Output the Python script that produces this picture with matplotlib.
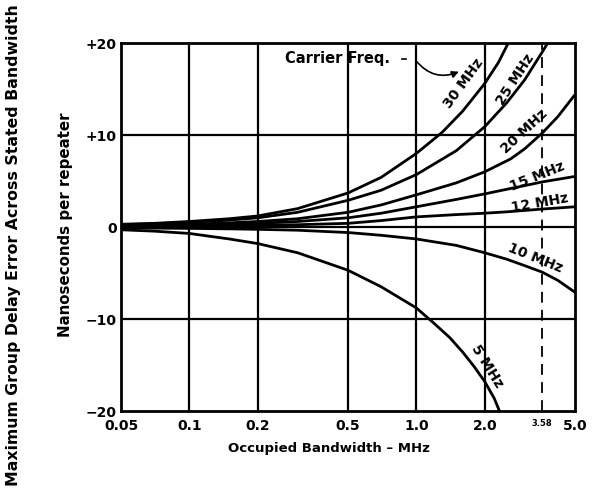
# Group delay error vs occupied bandwidth, one curve per carrier frequency.

import matplotlib
matplotlib.use("Agg")
import matplotlib.pyplot as plt

plt.rcParams["font.family"] = ["DejaVu Sans"]
plt.rcParams["font.weight"] = "bold"

# values (MHz, ns per repeater)
bw_30 = [0.05, 0.07, 0.1, 0.15, 0.2, 0.3, 0.5, 0.7, 1.0, 1.3, 1.6, 2.0, 2.3, 2.6]
gd_30 = [0.3, 0.4, 0.6, 0.9, 1.2, 2.0, 3.7, 5.4, 8.0, 10.3, 12.6, 15.6, 17.9, 20.5]

bw_25 = [0.05, 0.07, 0.1, 0.15, 0.2, 0.3, 0.5, 0.7, 1.0, 1.5, 2.0, 2.5, 3.0, 3.58, 3.9]
gd_25 = [0.25, 0.35, 0.5, 0.75, 1.0, 1.6, 2.9, 4.0, 5.7, 8.3, 10.9, 13.5, 16.0, 19.0, 20.5]

bw_20 = [0.05, 0.07, 0.1, 0.15, 0.2, 0.3, 0.5, 0.7, 1.0, 1.5, 2.0, 2.6, 3.0, 3.58, 4.2, 5.0]
gd_20 = [0.15, 0.2, 0.3, 0.45, 0.6, 0.9, 1.6, 2.4, 3.5, 4.8, 6.0, 7.4, 8.5, 10.2, 12.0, 14.4]

bw_15 = [0.05, 0.07, 0.1, 0.15, 0.2, 0.3, 0.5, 0.7, 1.0, 1.5, 2.0, 2.5, 3.0, 3.58, 5.0]
gd_15 = [0.1, 0.13, 0.2, 0.3, 0.4, 0.6, 1.0, 1.5, 2.2, 3.0, 3.6, 4.1, 4.5, 4.9, 5.5]

bw_12 = [0.05, 0.07, 0.1, 0.15, 0.2, 0.3, 0.5, 0.7, 1.0, 1.5, 2.0, 2.5, 3.0, 3.58, 5.0]
gd_12 = [0.05, 0.07, 0.1, 0.15, 0.2, 0.25, 0.4, 0.7, 1.1, 1.35, 1.5, 1.65, 1.8, 1.95, 2.2]

bw_10 = [0.05, 0.07, 0.1, 0.15, 0.2, 0.3, 0.5, 0.7, 1.0, 1.5, 2.0, 2.5, 3.0, 3.58, 4.2, 5.0]
gd_10 = [-0.1, -0.12, -0.15, -0.2, -0.25, -0.35, -0.6, -0.9, -1.3, -2.0, -2.8, -3.5, -4.2, -4.9, -5.8, -7.1]

bw_5 = [0.05, 0.07, 0.1, 0.15, 0.2, 0.3, 0.5, 0.7, 1.0, 1.2, 1.4, 1.6, 1.8, 2.0, 2.2, 2.35]
gd_5 = [-0.3, -0.45, -0.7, -1.3, -1.8, -2.8, -4.7, -6.5, -8.8, -10.5, -12.0, -13.6, -15.2, -16.8, -18.6, -20.3]

x_ticks = [0.05, 0.1, 0.2, 0.5, 1.0, 2.0, 3.58, 5.0]
x_labels = ["0.05", "0.1", "0.2", "0.5", "1.0", "2.0", "3.58", "5.0"]
y_ticks = [-20, -10, 0, 10, 20]
y_labels = ["\u221220", "\u221210", "0", "+10", "+20"]

# curve labels: text, x, y, rotation
curve_labels = [
    ("30 MHz", 1.62, 15.6, 54),
    ("25 MHz", 2.72, 16.0, 57),
    ("20 MHz", 3.0, 10.4, 43),
    ("15 MHz", 3.4, 5.5, 22),
    ("12 MHz", 3.5, 2.6, 10),
    ("10 MHz", 3.33, -3.4, -22),
    ("5 MHz", 2.05, -15.1, -58),
]

fig = plt.figure(figsize=(5.92, 4.91), dpi=100)
ax = fig.add_axes([0.2044, 0.1629, 0.767, 0.7495])

for bw, gd in [(bw_30, gd_30), (bw_25, gd_25), (bw_20, gd_20), (bw_15, gd_15),
               (bw_12, gd_12), (bw_10, gd_10), (bw_5, gd_5)]:
    ax.plot(bw, gd, color="black", linewidth=2, solid_capstyle="butt")

ax.set_xscale("log")
ax.set_xlim(0.05, 5.0)
ax.set_ylim(-20, 20)

# grid
for xv in x_ticks:
    if xv == 3.58:
        ax.axvline(xv, color="black", linewidth=1.3, linestyle=(0, (6, 4)))
    elif 0.05 < xv < 5.0:
        ax.axvline(xv, color="black", linewidth=1.6)
for yv in [-10, 0, 10]:
    ax.axhline(yv, color="black", linewidth=1.6)

ax.set_xticks(x_ticks)
ax.set_xticklabels(x_labels, fontsize=10, fontweight="bold")
ax.minorticks_off()
ax.get_xticklabels()[6].set_fontsize(6)
ax.set_yticks(y_ticks)
ax.set_yticklabels(y_labels, fontsize=10, fontweight="bold")
ax.tick_params(axis="x", length=0, pad=6)
ax.tick_params(axis="y", length=0, pad=3)
for s in ax.spines.values():
    s.set_linewidth(2)

for txt, xv, yv, rot in curve_labels:
    ax.text(xv, yv, txt, rotation=rot, fontsize=10, fontweight="bold",
            ha="center", va="center", rotation_mode="anchor")

ax.text(0.45, 18.3, "Carrier Freq.", fontsize=10.5, fontweight="bold",
        ha="center", va="center")
ax.plot([0.86, 0.9], [18.3, 18.3], color="black", lw=1.2)
ax.annotate("", xy=(1.58, 17.0), xytext=(0.98, 18.3),
            arrowprops=dict(arrowstyle="-|>", color="black", lw=1.2,
                            connectionstyle="arc3,rad=0.4"))

ax.set_xlabel("Occupied Bandwidth \u2013 MHz", fontsize=9.5, fontweight="bold", labelpad=8)
ax.xaxis.set_label_coords(0.458, -0.085)
fig.text(0.11, 0.542, "Nanoseconds per repeater",
         rotation=90, fontsize=10.8, fontweight="bold", ha="center", va="center")
fig.text(0.022, 0.5, "Maximum Group Delay Error Across Stated Bandwidth",
         rotation=90, fontsize=11.3, fontweight="bold", ha="center", va="center")

fig.savefig("out.png", dpi=100)
